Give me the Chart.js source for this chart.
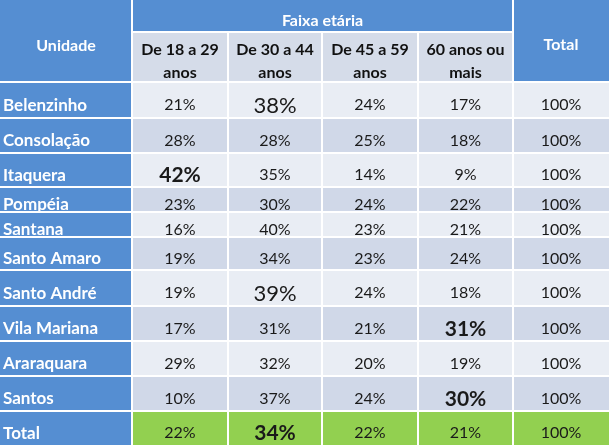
<!DOCTYPE html>
<html>
<head>
<meta charset="utf-8">
<script src="https://cdn.jsdelivr.net/npm/chart.js@4"></script>
<style>
    html, body { margin: 0; padding: 0; background: #ffffff; }
    #tableChart { display: block; }
</style>
</head>
<body>
<canvas id="tableChart" width="609" height="445"></canvas>
<script>
// ---- data ----
const units = ['Belenzinho', 'Consolação', 'Itaquera', 'Pompéia', 'Santana', 'Santo Amaro',
    'Santo André', 'Vila Mariana', 'Araraquara', 'Santos'];
const groupTitle = 'Faixa etária';
const ageBands = [['De 18 a 29', 'anos'], ['De 30 a 44', 'anos'], ['De 45 a 59', 'anos'], ['60 anos ou', 'mais']];
const age18to29 = [21, 28, 42, 23, 16, 19, 19, 17, 29, 10];
const age30to44 = [38, 28, 35, 30, 40, 34, 39, 31, 32, 37];
const age45to59 = [24, 25, 14, 24, 23, 23, 24, 21, 20, 24];
const age60plus = [17, 18, 9, 22, 21, 24, 18, 31, 19, 30];
const unitTotals = [100, 100, 100, 100, 100, 100, 100, 100, 100, 100];
const overallLabel = 'Total';
const overallByBand = [22, 34, 22, 21];
const overallTotal = 100;
// cells written larger in the source: [row (10 = Total row), band, weight]
const emphasis = [[0, 1, 'normal'], [2, 0, 'bold'], [6, 1, 'normal'], [7, 3, 'bold'], [9, 3, 'bold'], [10, 1, 'bold']];

// ---- layout ----
const W = 609, H = 445;
const colEdges = [0, 132, 228, 322, 418, 513, W];
const rowEdges = [0, 32, 82, 118, 153, 187, 212, 237, 270, 306, 341, 376, 411, H];
const FONT = 'Lato, "Open Sans", sans-serif';
const BLUE = '#558ed2';
const SUB = '#d5dce9';
const LIGHT = '#e9edf4';
const DARK = '#d0d8e8';
const GREEN = '#92d050';

const bandValues = [age18to29, age30to44, age45to59, age60plus];

function cellBox(c0, c1, r0, r1) {
    const x0 = c0 === 0 ? 0 : colEdges[c0] + 1;
    const x1 = c1 === colEdges.length - 1 ? W : colEdges[c1] - 1;
    const y0 = r0 === 0 ? 0 : rowEdges[r0] + 1;
    const y1 = r1 === rowEdges.length - 1 ? H : rowEdges[r1] - 1;
    return { x: [x0, x1], y: (y0 + y1) / 2, h: y1 - y0 };
}

function rowDataset(cells, colors) {
    return {
        data: cells.map(c => ({ x: c.x, y: c.y })),
        barThickness: cells[0].h,
        backgroundColor: colors,
        borderWidth: 0,
        inflateAmount: 0,
        grouped: false
    };
}

const datasets = [];
datasets.push(rowDataset([cellBox(0, 1, 0, 2)], [BLUE]));
datasets.push(rowDataset([cellBox(5, 6, 0, 2)], [BLUE]));
datasets.push(rowDataset([cellBox(1, 5, 0, 1)], [BLUE]));
datasets.push(rowDataset(ageBands.map((b, j) => cellBox(j + 1, j + 2, 1, 2)), ageBands.map(() => SUB)));

units.forEach((u, i) => {
    const r = i + 2;
    const cells = [];
    for (let c = 0; c < 6; c++) cells.push(cellBox(c, c + 1, r, r + 1));
    const shade = i % 2 === 0 ? LIGHT : DARK;
    datasets.push(rowDataset(cells, [BLUE, shade, shade, shade, shade, shade]));
});
{
    const r = units.length + 2;
    const cells = [];
    for (let c = 0; c < 6; c++) cells.push(cellBox(c, c + 1, r, r + 1));
    datasets.push(rowDataset(cells, [BLUE, GREEN, GREEN, GREEN, GREEN, GREEN]));
}

function emphasisFor(row, band) {
    const e = emphasis.find(v => v[0] === row && v[1] === band);
    return e ? e[2] : null;
}

const tableText = {
    id: 'tableText',
    afterDatasetsDraw(chart) {
        const ctx = chart.ctx;
        const xs = chart.scales.x, ys = chart.scales.y;
        const px = v => xs.getPixelForValue(v);
        const py = v => ys.getPixelForValue(v);
        const mid = (a, b) => (px(colEdges[a]) + px(colEdges[b])) / 2;

        function put(text, x, y, font, color, align) {
            ctx.font = font;
            ctx.fillStyle = color;
            ctx.textAlign = align || 'center';
            ctx.textBaseline = 'alphabetic';
            ctx.fillText(text, x, y);
        }

        ctx.save();
        // headers
        put('Unidade', mid(0, 1), py(51), 'bold 16px ' + FONT, '#ffffff');
        put('Total', mid(5, 6), py(50), 'bold 16px ' + FONT, '#ffffff');
        put(groupTitle, mid(1, 5), py(26), 'bold 16px ' + FONT, '#ffffff');
        ageBands.forEach((b, j) => {
            put(b[0], mid(j + 1, j + 2), py(55), 'bold 16px ' + FONT, '#111111');
            put(b[1], mid(j + 1, j + 2), py(78), 'bold 16px ' + FONT, '#111111');
        });

        const rows = units.map((u, i) => ({ label: u, vals: bandValues.map(a => a[i]), total: unitTotals[i] }));
        rows.push({ label: overallLabel, vals: overallByBand, total: overallTotal });

        rows.forEach((row, i) => {
            const r = i + 2;
            const centre = (rowEdges[r] + rowEdges[r + 1]) / 2 + 4.5;
            put(row.label, px(3), py(centre + 6), 'bold 17px ' + FONT, '#ffffff', 'left');
            row.vals.forEach((v, j) => {
                const em = emphasisFor(i, j);
                let font = '16px ' + FONT, base = centre + 5.8;
                if (em === 'bold') { font = 'bold 21px ' + FONT; base = centre + 7.6; }
                if (em === 'normal') { font = '22px ' + FONT; base = centre + 8; }
                put(v + '%', mid(j + 1, j + 2), py(base), font, '#1a1a1a');
            });
            put(row.total + '%', mid(5, 6), py(centre + 5.8), '16px ' + FONT, '#1a1a1a');
        });
        ctx.restore();
    }
};

new Chart(document.getElementById('tableChart'), {
    type: 'bar',
    data: { datasets: datasets },
    options: {
        indexAxis: 'y',
        responsive: false,
        animation: false,
        events: [],
        layout: { padding: 0 },
        plugins: { legend: { display: false }, tooltip: { enabled: false } },
        scales: {
            x: { type: 'linear', min: 0, max: W, display: false, offset: false },
            y: { type: 'linear', min: 0, max: H, reverse: true, display: false, offset: false }
        }
    },
    plugins: [tableText]
});
</script>
</body>
</html>
